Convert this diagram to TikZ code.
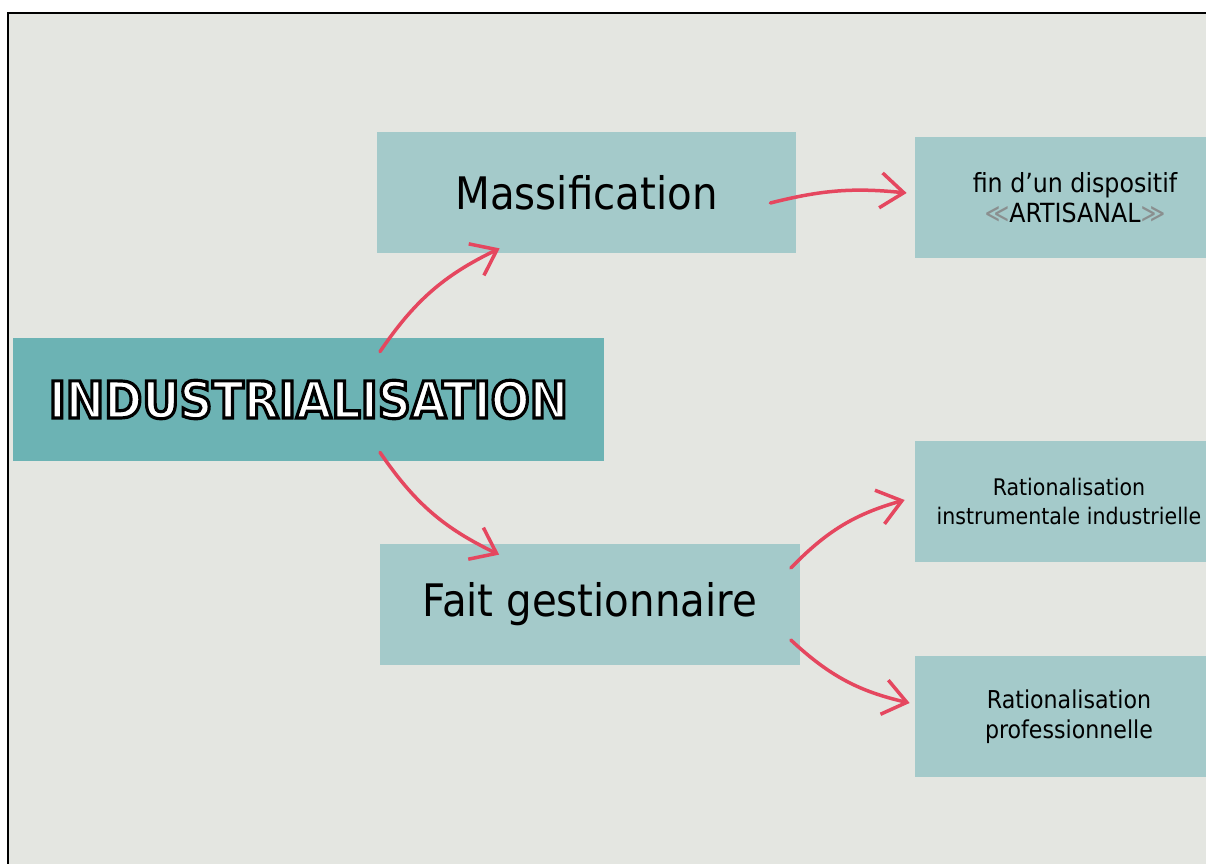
\documentclass[tikz,border=0pt]{standalone}
\usepackage{fontspec}
\setmainfont{DejaVu Sans Condensed}
\usepackage{xcolor}
\usepackage{tikz}
\usetikzlibrary{arrows.meta}
\definecolor{paper}{HTML}{E4E6E1}
\definecolor{tealL}{HTML}{A4CACA}
\definecolor{tealD}{HTML}{6CB3B4}
\definecolor{arrred}{HTML}{E5475F}
\definecolor{quotegray}{HTML}{8A8F8F}
% white letters with a black stroke (text render mode 2)
\newcommand{\outlined}[1]{\textcolor{white}{\special{pdf:code 2 Tr 0 0 0 RG 1.8 w}#1\special{pdf:code 0 Tr}}}
\tikzset{
	box/.style={rectangle, fill=tealL, minimum width=83.8mm, minimum height=24.2mm, inner sep=0pt, align=center, text=black},
	mainbox/.style={box, fill=tealD, minimum width=118.2mm, minimum height=24.6mm},
	sidebox/.style={box, minimum width=61.6mm},
	big/.style={font=\fontsize{25.5}{28}\selectfont},
	small/.style={font=\fontsize{14}{17}\selectfont},
	arr/.style={draw=arrred, line width=0.7mm, line cap=round,
		-{Straight Barb[length=4.6mm,width=7mm]}}, % open red tips
}

\begin{document}
\begin{tikzpicture}[x=0.2mm, y=-0.2mm]
	\clip (0,0) rectangle (1206,864);
	\fill[white] (0,0) rectangle (1206,864);
	\fill[paper] (8,13) rectangle (1206,864);
	\draw[line width=0.45mm] (8,864) -- (8,13) -- (1206,13);

	\node[mainbox] (ind) at (308.5,399.5)
		{\fontsize{29}{30}\selectfont\bfseries\outlined{INDUSTRIALISATION}};
	\node[box, big] (mass) at (586.5,192.5) {Massification};
	\node[box, big] (fait) at (590,604.5) {Fait gestionnaire};
	\node[sidebox, small, font=\fontsize{15}{17}\selectfont, minimum width=64mm] (fin) at (1075,197.5)
		{fin d'un dispositif\\\textcolor{quotegray}{≪}ARTISANAL\textcolor{quotegray}{≫}};
	\node[sidebox, small, font=\fontsize{13}{17}\selectfont] (rinst) at (1069,501.5)
		{Rationalisation\\instrumentale industrielle};
	\node[sidebox, small] (rpro) at (1069,716.5)
		{Rationalisation\\professionnelle};

	\path ([xshift=14.3mm,yshift=-2.8mm]ind.north) edge[arr, bend left=15] ([xshift=24.6mm,yshift=1mm]mass.south west)
		([xshift=14.3mm,yshift=1.8mm]ind.south) edge[arr, bend right=15] ([xshift=23.8mm,yshift=-2.2mm]fait.north west)
		([xshift=-5.2mm,yshift=-2.1mm]mass.east) edge[arr, bend left=10] ([xshift=-1.6mm,yshift=0.9mm]fin.west)
		([xshift=-1.8mm,yshift=7.3mm]fait.east) edge[arr, bend left=15] ([xshift=-2mm,yshift=0.3mm]rinst.west)
		([xshift=-1.8mm,yshift=-7.1mm]fait.east) edge[arr, bend right=15] ([xshift=-1mm,yshift=2.7mm]rpro.west);
\end{tikzpicture}
\end{document}
